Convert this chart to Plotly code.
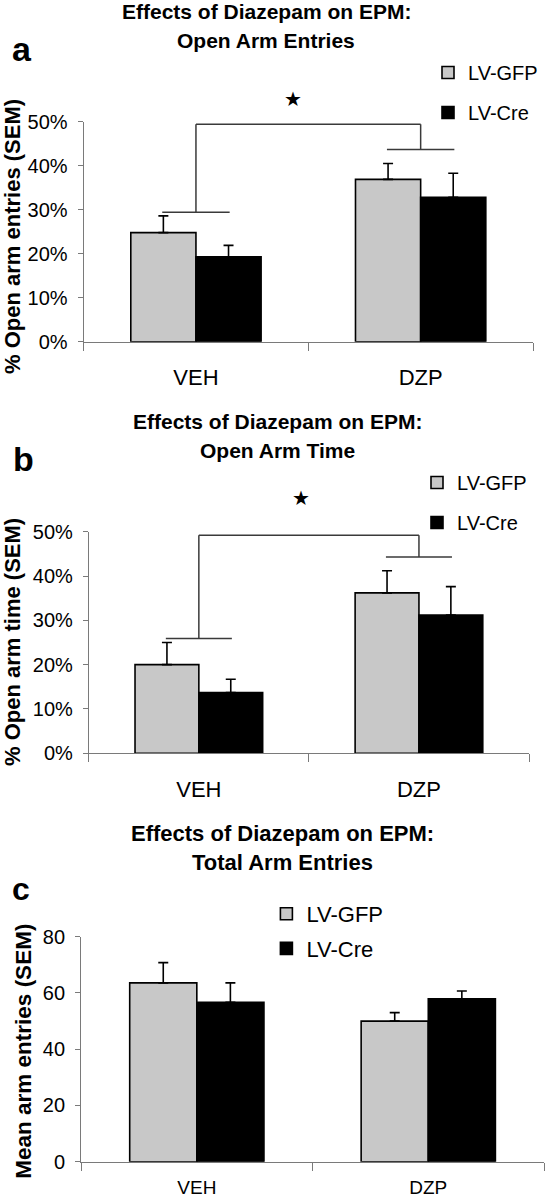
import plotly.graph_objects as go

# ---------------- data ----------------
groups = ["VEH", "DZP"]
series_names = ["LV-GFP", "LV-Cre"]

# Panel a: % open arm entries
a_gfp = [0.248, 0.369]
a_gfp_sem = [0.038, 0.036]
a_cre = [0.193, 0.328]
a_cre_sem = [0.026, 0.055]

# Panel b: % open arm time
b_gfp = [0.200, 0.362]
b_gfp_sem = [0.050, 0.050]
b_cre = [0.137, 0.312]
b_cre_sem = [0.030, 0.064]

# Panel c: mean arm entries
c_gfp = [63.6, 50.0]
c_gfp_sem = [7.2, 3.0]
c_cre = [56.7, 57.9]
c_cre_sem = [6.9, 2.8]

titles = [
    ["Effects of Diazepam on EPM:", "Open Arm Entries"],
    ["Effects of Diazepam on EPM:", "Open Arm Time"],
    ["Effects of Diazepam on EPM:", "Total Arm Entries"],
]
panel_letters = ["a", "b", "c"]
y_titles = ["% Open arm entries (SEM)", "% Open arm time (SEM)", "Mean arm entries (SEM)"]

# significance bracket levels (left drop, right drop, top) and star position
sig_a = [0.294, 0.437, 0.494]
sig_b = [0.259, 0.443, 0.492]
star_a = [0.43, 0.552]
star_b = [0.465, 0.575]

# ---------------- styling ----------------
W, H = 546, 1200
FONT = "Liberation Sans, Arial, sans-serif"
GFP_COLOR = "#c8c8c8"
CRE_COLOR = "#000000"
AXIS_COLOR = "#7a7a7a"
BRACKET_COLOR = "#3a3a3a"


def px(x):
    return x / W


def py(y):
    return 1 - y / H


fig = go.Figure()

panels = [
    dict(gfp=a_gfp, gfp_e=a_gfp_sem, cre=a_cre, cre_e=a_cre_sem, sfx="", legend="legend"),
    dict(gfp=b_gfp, gfp_e=b_gfp_sem, cre=b_cre, cre_e=b_cre_sem, sfx="2", legend="legend2"),
    dict(gfp=c_gfp, gfp_e=c_gfp_sem, cre=c_cre, cre_e=c_cre_sem, sfx="3", legend="legend3"),
]

for p in panels:
    for name, vals, errs, col in [
        (series_names[0], p["gfp"], p["gfp_e"], GFP_COLOR),
        (series_names[1], p["cre"], p["cre_e"], CRE_COLOR),
    ]:
        fig.add_trace(go.Bar(
            x=groups, y=vals, name=name,
            xaxis="x" + p["sfx"], yaxis="y" + p["sfx"],
            legend=p["legend"], legendgroup=name + p["sfx"],
            marker=dict(color=col, line=dict(color="black", width=1.6)),
            error_y=dict(type="data", symmetric=False, array=errs,
                         arrayminus=[0] * len(errs), color="black",
                         thickness=1.6, width=5),
        ))

# axes geometry (pixels)
geo = [
    dict(x0=83.6, x1=533, y0=341.7, y1=121.7),
    dict(x0=88.8, x1=529, y0=753.3, y1=531.7),
    dict(x0=81.1, x1=544, y0=1161.7, y1=936.7),
]
yranges = [[0, 0.5], [0, 0.5], [0, 80]]
ytickfmt = [".0%", ".0%", "d"]
ydtick = [0.1, 0.1, 20]
xtick_sizes = [22, 22, 19]
ytick_sizes = [20, 20, 20]
xstand = [16, 16, 8]

layout = dict(
    width=W, height=H, autosize=False,
    margin=dict(l=0, r=0, t=0, b=0, pad=0, autoexpand=False),
    paper_bgcolor="white", plot_bgcolor="white",
    barmode="group", bargap=0.42, bargroupgap=0,
    font=dict(family=FONT, color="black"),
    showlegend=True,
)

for i, g in enumerate(geo):
    sfx = "" if i == 0 else str(i + 1)
    layout["xaxis" + sfx] = dict(
        domain=[px(g["x0"]), px(g["x1"])], anchor="y" + sfx,
        type="category", range=[-0.5, 1.5], automargin=False,
        showline=True, linecolor=AXIS_COLOR, linewidth=1,
        ticks="outside", tickson="boundaries", ticklen=8, tickcolor=AXIS_COLOR,
        tickfont=dict(size=xtick_sizes[i], family=FONT, color="black"),
        ticklabelstandoff=xstand[i],
        showgrid=False, zeroline=False, fixedrange=True,
    )
    layout["yaxis" + sfx] = dict(
        domain=[py(g["y0"]), py(g["y1"])], anchor="x" + sfx,
        range=yranges[i], dtick=ydtick[i], tick0=0, tickformat=ytickfmt[i],
        automargin=False,
        showline=True, linecolor=AXIS_COLOR, linewidth=1,
        ticks="outside", ticklen=5, tickcolor=AXIS_COLOR,
        tickfont=dict(size=ytick_sizes[i], family=FONT, color="black"),
        ticklabelstandoff=6,
        showgrid=False, zeroline=False, fixedrange=True,
    )

# legends: (symbol centre x, legend top y, font size, group gap)
leg_pos = [(448, 53, 20, 11), (437, 463, 20, 11), (286.4, 893, 22, 3)]
for i, (sx, sy, fs, gap) in enumerate(leg_pos):
    key = "legend" if i == 0 else "legend" + str(i + 1)
    layout[key] = dict(
        x=px(sx - 20), y=py(sy), xanchor="left", yanchor="top",
        font=dict(size=fs, family=FONT, color="black"),
        bgcolor="rgba(0,0,0,0)", borderwidth=0,
        traceorder="grouped", tracegroupgap=gap,
        itemclick=False, itemdoubleclick=False,
    )

fig.update_layout(**layout)

annotations = []
# titles
title_pos = [(266, 11.7, 40.7), (277, 421.7, 450.8), (282, 834, 862.5)]
title_sizes = [21, 21, 22]
for i, (cx, y1, y2) in enumerate(title_pos):
    for line, yy in zip(titles[i], (y1, y2)):
        annotations.append(dict(
            text="<b>" + line + "</b>", x=px(cx), y=py(yy),
            xref="paper", yref="paper", xanchor="center", yanchor="middle",
            showarrow=False, font=dict(size=title_sizes[i], family=FONT, color="black"),
        ))
# panel letters
letter_pos = [(21.8, 49), (23.5, 459), (21.4, 889)]
letter_sizes = [34, 34, 32]
for i, (lx, ly) in enumerate(letter_pos):
    annotations.append(dict(
        text="<b>" + panel_letters[i] + "</b>", x=px(lx), y=py(ly),
        xref="paper", yref="paper", xanchor="center", yanchor="middle",
        showarrow=False, font=dict(size=letter_sizes[i], family=FONT, color="black"),
    ))
# y-axis titles
ytitle_pos = [(12, 237), (12, 642), (24, 1051.7)]
ytitle_sizes = [22, 22, 22.5]
for i, (tx, ty) in enumerate(ytitle_pos):
    annotations.append(dict(
        text="<b>" + y_titles[i] + "</b>", x=px(tx), y=py(ty),
        xref="paper", yref="paper", xanchor="center", yanchor="middle",
        textangle=-90, showarrow=False,
        font=dict(size=ytitle_sizes[i], family=FONT, color="black"),
    ))
# stars (positioned in data units, converted to paper so they can sit above the axis)
for gi, st in [(0, star_a), (1, star_b)]:
    g = geo[gi]
    sx = g["x0"] + (st[0] + 0.5) / 2 * (g["x1"] - g["x0"])
    sy = g["y0"] - (st[1] - yranges[gi][0]) / (yranges[gi][1] - yranges[gi][0]) * (g["y0"] - g["y1"])
    annotations.append(dict(
        text="★", x=px(sx), y=py(sy), xref="paper", yref="paper",
        xanchor="center", yanchor="middle", showarrow=False,
        font=dict(size=20, family="DejaVu Sans", color="black"),
    ))

shapes = []
HALF = 0.15
for sfx, lv in [("", sig_a), ("2", sig_b)]:
    left, right, top = lv
    xr, yr = "x" + sfx, "y" + sfx
    line = dict(color=BRACKET_COLOR, width=1.5)
    shapes += [
        dict(type="line", xref=xr, yref=yr, x0=0, x1=1, y0=top, y1=top, line=line),
        dict(type="line", xref=xr, yref=yr, x0=0, x1=0, y0=left, y1=top, line=line),
        dict(type="line", xref=xr, yref=yr, x0=1, x1=1, y0=right, y1=top, line=line),
        dict(type="line", xref=xr, yref=yr, x0=-HALF, x1=HALF, y0=left, y1=left, line=line),
        dict(type="line", xref=xr, yref=yr, x0=1 - HALF, x1=1 + HALF, y0=right, y1=right, line=line),
    ]

fig.update_layout(annotations=annotations, shapes=shapes)

fig.write_html(
    "out.html",
    config={"displayModeBar": False},
    post_script="document.documentElement.style.margin='0';document.body.style.margin='0';",
)
